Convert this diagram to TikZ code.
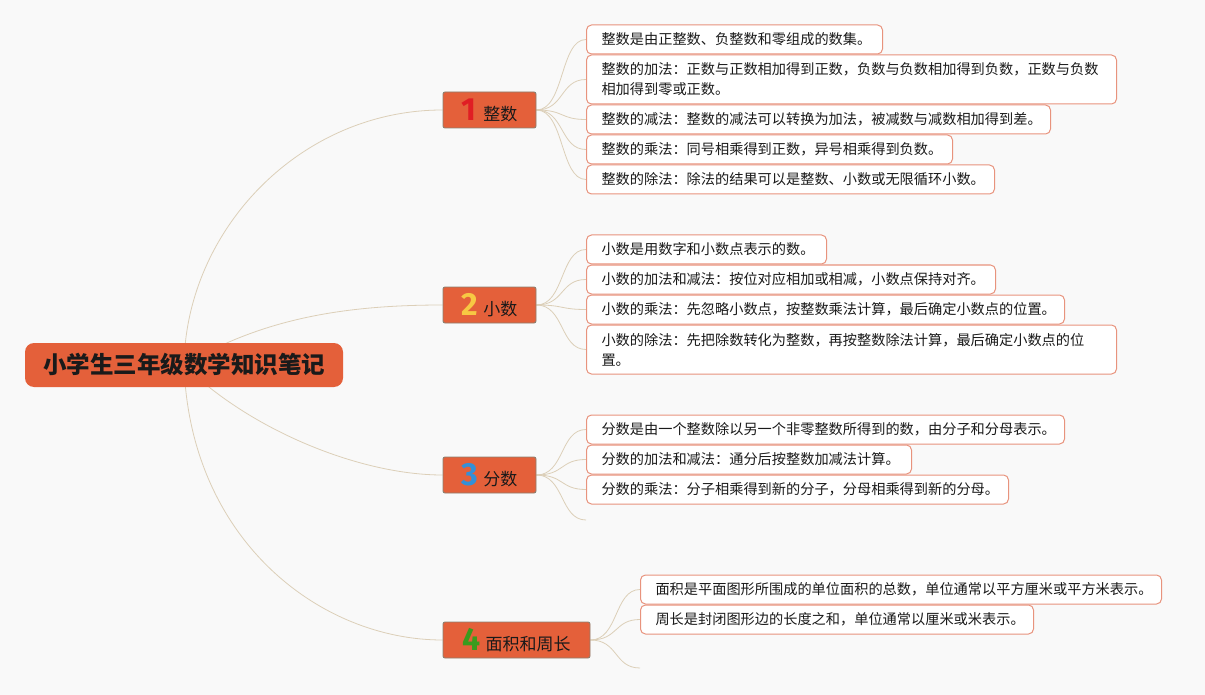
\documentclass[tikz,border=0pt]{standalone}
\usepackage{fontspec}
\setmainfont{Noto Sans CJK SC}
\newfontfamily\numfont{Fira Sans}
\definecolor{bgc}{HTML}{F9F9F9}
\definecolor{rootfill}{HTML}{E4603A}
\definecolor{branchborder}{HTML}{8C8070}
\definecolor{leafborder}{HTML}{E8937D}
\definecolor{linec}{HTML}{DCCFB8}
\definecolor{txt}{HTML}{1A1A1A}
\definecolor{n1}{HTML}{E01E24}
\definecolor{n2}{HTML}{F7C843}
\definecolor{n3}{HTML}{3390D8}
\definecolor{n4}{HTML}{3B9B1E}
\pgfdeclarelayer{bglayer}
\pgfsetlayers{bglayer,main}
\tikzset{
  rootbox/.style={draw=none, fill=rootfill, rounded corners=9pt, minimum width=318pt, minimum height=44pt, inner sep=0pt, text=txt, font=\fontsize{23.5}{28}\selectfont\bfseries},
  branchbox/.style={draw=branchborder, line width=0.9pt, fill=rootfill, rounded corners=2pt, minimum height=36pt, inner sep=0pt, text=txt, font=\fontsize{17}{20}\selectfont},
  leafbox/.style={draw=leafborder, line width=1pt, fill=white, rounded corners=5pt, anchor=west, inner xsep=0pt, inner ysep=0pt, align=left, text=txt, font=\fontsize{14.2}{20}\selectfont},
  conn/.style={draw=linec, line width=0.8pt},
}
\newcommand{\leaf}[5]{\node[leafbox, minimum width=#3pt, minimum height=#4pt, text width=#3pt-30pt] (#1) at #2 {#5};}
\newcommand{\dg}[2]{{\numfont\bfseries\fontsize{32}{32}\selectfont\color{#1}#2}}
\begin{document}
\begin{tikzpicture}[x=1pt,y=-1pt]
\begin{pgfonlayer}{bglayer}
\fill[bgc] (0,0) rectangle (1205,695);
\end{pgfonlayer}
\useasboundingbox (0,0) rectangle (1205,695);

% root
\node[rootbox] (root) at (184,365) {小学生三年级数学知识笔记};

% branches
\node[branchbox, minimum width=93pt] (b1) at (489.5,110) {\dg{n1}{1}\hspace{7pt}整数};
\node[branchbox, minimum width=93pt] (b2) at (489.5,305) {\dg{n2}{2}\hspace{5pt}小数};
\node[branchbox, minimum width=93pt] (b3) at (489.5,475) {\dg{n3}{3}\hspace{5pt}分数};
\node[branchbox, minimum width=147pt] (b4) at (516.5,640) {\dg{n4}{4}\hspace{5pt}面积和周长};

% leaves of 1
\leaf{l1}{(586,39.5)}{296}{29}{整数是由正整数、负整数和零组成的数集。}
\leaf{l2}{(586,79.5)}{530}{49}{整数的加法：正数与正数相加得到正数，负数与负数相加得到负数，正数与负数\\相加得到零或正数。}
\leaf{l3}{(586,119.5)}{464}{29}{整数的减法：整数的减法可以转换为加法，被减数与减数相加得到差。}
\leaf{l4}{(586,149.5)}{366}{29}{整数的乘法：同号相乘得到正数，异号相乘得到负数。}
\leaf{l5}{(586,179.5)}{408}{29}{整数的除法：除法的结果可以是整数、小数或无限循环小数。}

% leaves of 2
\leaf{m1}{(586,249.5)}{240}{29}{小数是用数字和小数点表示的数。}
\leaf{m2}{(586,279.5)}{409}{29}{小数的加法和减法：按位对应相加或相减，小数点保持对齐。}
\leaf{m3}{(586,309.5)}{478}{29}{小数的乘法：先忽略小数点，按整数乘法计算，最后确定小数点的位置。}
\leaf{m4}{(586,349.5)}{530}{49}{小数的除法：先把除数转化为整数，再按整数除法计算，最后确定小数点的位\\置。}

% leaves of 3
\leaf{f1}{(586,429.5)}{478}{29}{分数是由一个整数除以另一个非零整数所得到的数，由分子和分母表示。}
\leaf{f2}{(586,459.5)}{325}{29}{分数的加法和减法：通分后按整数加减法计算。}
\leaf{f3}{(586,489.5)}{422}{29}{分数的乘法：分子相乘得到新的分子，分母相乘得到新的分母。}
\coordinate (f4) at (586,520);

% leaves of 4
\leaf{a1}{(640,589.5)}{521}{29}{面积是平面图形所围成的单位面积的总数，单位通常以平方厘米或平方米表示。}
\leaf{a2}{(640,619.5)}{393}{29}{周长是封闭图形边的长度之和，单位通常以厘米或米表示。}
\coordinate (a3) at (640,668);

\begin{pgfonlayer}{bglayer}
% root to branches
\draw[conn] (root.center) .. controls (186,230) and (300,110) .. (b1.west);
\draw[conn] (root.center) .. controls (260,320) and (340,305) .. (b2.west);
\draw[conn] (root.center) .. controls (250,430) and (360,475) .. (b3.west);
\draw[conn] (root.center) .. controls (190,540) and (320,640) .. (b4.west);
% branch to leaves
\foreach \b/\l in {b1/l1,b1/l2,b1/l3,b1/l4,b1/l5,b2/m1,b2/m2,b2/m3,b2/m4,b3/f1,b3/f2,b3/f3,b3/f4,b4/a1,b4/a2,b4/a3}{
  \draw[conn] (\b.east) .. controls +(28,0) and +(-26,0) .. (\l.west);
}
\end{pgfonlayer}
\end{tikzpicture}
\end{document}
